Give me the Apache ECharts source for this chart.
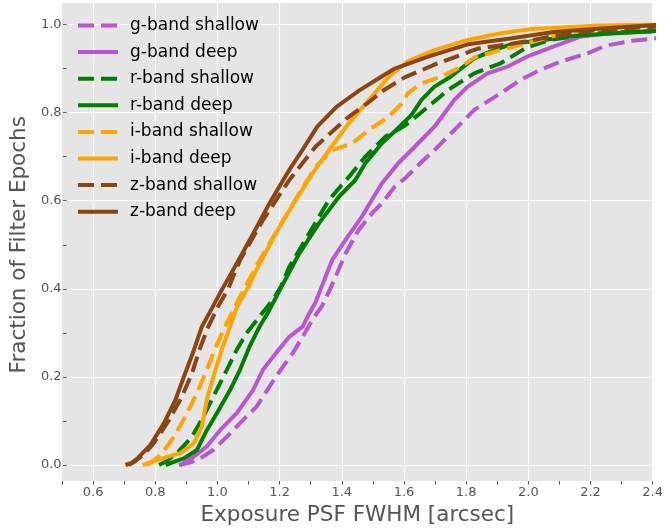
<!DOCTYPE html>
<html>
<head>
<meta charset="utf-8">
<script src="https://cdn.jsdelivr.net/npm/echarts@6/dist/echarts.min.js"></script>
<style>
html,body{margin:0;padding:0;background:#ffffff;}
#chart{width:666px;height:531px;}
</style>
</head>
<body>
<div id="chart"></div>
<script>
// ---- Data ([FWHM arcsec, cumulative fraction]) ----
const seriesNames = ['g-band shallow','g-band deep','r-band shallow','r-band deep',
                     'i-band shallow','i-band deep','z-band shallow','z-band deep'];

const gShallow = [[0.862,0.0],[0.9,0.006],[0.93,0.015],[0.973,0.034],[1.016,0.064],[1.059,0.095],
  [1.112,0.132],[1.154,0.178],[1.197,0.223],[1.229,0.254],[1.261,0.291],[1.292,0.329],[1.324,0.362],
  [1.35,0.4],[1.367,0.427],[1.399,0.48],[1.441,0.533],[1.484,0.571],[1.516,0.594],[1.558,0.632],
  [1.59,0.65],[1.64,0.685],[1.686,0.715],[1.739,0.753],[1.814,0.806],[1.899,0.844],[1.963,0.874],
  [2.026,0.897],[2.09,0.915],[2.176,0.934],[2.239,0.952],[2.324,0.963],[2.4,0.969]];

const gDeep = [[0.867,0.0],[0.89,0.01],[0.91,0.019],[0.952,0.042],[0.995,0.079],[1.048,0.117],
  [1.101,0.17],[1.133,0.216],[1.175,0.254],[1.218,0.291],[1.261,0.314],[1.282,0.344],[1.303,0.37],
  [1.325,0.41],[1.356,0.465],[1.399,0.511],[1.452,0.564],[1.516,0.639],[1.569,0.685],[1.612,0.715],
  [1.686,0.768],[1.75,0.829],[1.793,0.859],[1.857,0.889],[1.92,0.904],[1.984,0.927],[2.069,0.95],
  [2.154,0.972],[2.25,0.98],[2.4,0.985]];

const rShallow = [[0.798,0.0],[0.82,0.008],[0.856,0.027],[0.904,0.064],[0.941,0.11],[0.973,0.155],
  [1.011,0.208],[1.048,0.261],[1.08,0.299],[1.122,0.337],[1.165,0.375],[1.191,0.405],[1.218,0.45],
  [1.282,0.526],[1.346,0.602],[1.41,0.654],[1.463,0.7],[1.527,0.745],[1.59,0.77],[1.665,0.813],
  [1.729,0.851],[1.814,0.889],[1.899,0.912],[1.984,0.948],[2.058,0.965],[2.2,0.98],[2.4,0.985]];

const rDeep = [[0.819,0.0],[0.85,0.008],[0.878,0.015],[0.92,0.034],[0.952,0.079],[0.984,0.117],
  [1.027,0.17],[1.059,0.216],[1.09,0.269],[1.122,0.314],[1.154,0.352],[1.197,0.41],[1.25,0.48],
  [1.314,0.549],[1.378,0.609],[1.431,0.647],[1.463,0.685],[1.516,0.73],[1.569,0.765],[1.612,0.795],
  [1.644,0.829],[1.686,0.859],[1.739,0.882],[1.814,0.923],[1.878,0.942],[1.942,0.957],[2.037,0.965],
  [2.143,0.975],[2.4,0.985]];

const iShallow = [[0.76,0.0],[0.785,0.012],[0.808,0.027],[0.846,0.064],[0.883,0.11],[0.92,0.163],
  [0.952,0.216],[0.979,0.265],[1.011,0.314],[1.043,0.359],[1.065,0.39],[1.122,0.465],[1.186,0.541],
  [1.25,0.617],[1.303,0.677],[1.356,0.715],[1.42,0.73],[1.484,0.765],[1.537,0.79],[1.58,0.82],
  [1.601,0.845],[1.644,0.866],[1.708,0.882],[1.772,0.904],[1.814,0.925],[1.899,0.942],[2.005,0.961],
  [2.09,0.978],[2.2,0.99],[2.4,0.999]];

const iDeep = [[0.745,0.0],[0.78,0.008],[0.808,0.015],[0.867,0.027],[0.91,0.049],[0.936,0.087],
  [0.952,0.148],[0.973,0.2],[1.0,0.261],[1.027,0.314],[1.05,0.36],[1.09,0.41],[1.112,0.443],
  [1.175,0.526],[1.239,0.602],[1.293,0.662],[1.346,0.715],[1.41,0.776],[1.47,0.825],[1.537,0.88],
  [1.601,0.917],[1.686,0.942],[1.793,0.965],[1.9,0.98],[2.0,0.99],[2.2,0.997],[2.4,1.0]];

const zShallow = [[0.70,0.0],[0.72,0.008],[0.75,0.025],[0.782,0.05],[0.83,0.102],[0.872,0.155],
  [0.904,0.208],[0.93,0.265],[0.957,0.314],[0.99,0.362],[1.021,0.4],[1.059,0.465],[1.133,0.556],
  [1.218,0.647],[1.303,0.723],[1.40,0.785],[1.484,0.829],[1.516,0.848],[1.59,0.88],[1.697,0.912],
  [1.825,0.945],[1.942,0.957],[2.058,0.972],[2.2,0.987],[2.4,0.995]];

const zDeep = [[0.69,0.0],[0.71,0.005],[0.73,0.016],[0.77,0.045],[0.814,0.095],[0.851,0.148],
  [0.878,0.2],[0.91,0.26],[0.936,0.314],[0.968,0.355],[1.0,0.397],[1.027,0.43],[1.09,0.51],
  [1.154,0.594],[1.218,0.67],[1.26,0.715],[1.308,0.768],[1.37,0.813],[1.445,0.851],[1.5,0.875],
  [1.558,0.9],[1.665,0.927],[1.793,0.955],[1.93,0.968],[2.07,0.983],[2.2,0.99],[2.4,0.999]];

const seriesData = [gShallow, gDeep, rShallow, rDeep, iShallow, iDeep, zShallow, zDeep];
const seriesColors = ['#BA55D3','#BA55D3','#008000','#008000','#FFA500','#FFA500','#8B4513','#8B4513'];
const seriesDashed = [true,false,true,false,true,false,true,false];

// ---- Chart ----
const FONT = 'DejaVu Sans';
const chart = echarts.init(document.getElementById('chart'), null, {renderer:'canvas'});

const series = seriesNames.map((name, i) => ({
  type: 'line',
  name: name,
  xAxisIndex: 1,
  yAxisIndex: 1,
  data: seriesData[i],
  symbol: 'none',
  showSymbol: false,
  smooth: false,
  animation: false,
  itemStyle: {color: seriesColors[i]},
  lineStyle: {
    color: seriesColors[i],
    width: 4,
    type: seriesDashed[i] ? [16, 7] : 'solid',
    cap: 'butt',
    join: 'round'
  }
}));

const option = {
  animation: false,
  backgroundColor: '#ffffff',
  grid: [
    {left: 62, right: 10, top: 3, bottom: 46, show: true, backgroundColor: '#E5E5E5', borderWidth: 0, containLabel: false},
    {left: 62, right: 10, top: 24.5, bottom: 66, show: false, containLabel: false}
  ],
  legend: {
    orient: 'vertical',
    left: 76,
    top: 17,
    padding: 0,
    itemWidth: 40,
    itemHeight: 14,
    itemGap: 9.6,
    data: seriesNames,
    itemStyle: {opacity: 0, borderWidth: 0},
    lineStyle: {width: 4},
    textStyle: {fontFamily: FONT, fontSize: 17, color: '#000000', padding: [0,0,0,7]}
  },
  xAxis: [
    {
      gridIndex: 0, type: 'value', min: 0.5, max: 2.4, interval: 0.1,
      axisLine: {show: false},
      axisTick: {show: true, length: 3.5, lineStyle: {color: '#555555', width: 1}},
      axisLabel: {
        margin: 5, color: '#555555', fontSize: 13, fontFamily: FONT,
        formatter: v => (Math.round(v * 10) % 2 === 0 ? v.toFixed(1) : '')
      },
      splitLine: {show: true, lineStyle: {color: ['rgba(0,0,0,0)', '#ffffff'], width: 1.2}},
      name: 'Exposure PSF FWHM [arcsec]', nameLocation: 'middle', nameGap: 21,
      nameTextStyle: {fontFamily: FONT, fontSize: 21.5, color: '#555555'}
    },
    {gridIndex: 1, type: 'value', min: 0.5, max: 2.4, show: false}
  ],
  yAxis: [
    {gridIndex: 0, type: 'value', min: 0, max: 1, show: false},
    {
      gridIndex: 1, type: 'value', min: 0, max: 1, interval: 0.1,
      axisLine: {show: false},
      axisTick: {show: true, length: 3.5, lineStyle: {color: '#555555', width: 1}},
      axisLabel: {
        margin: 5, color: '#555555', fontSize: 13, fontFamily: FONT,
        formatter: v => (Math.round(v * 10) % 2 === 0 ? v.toFixed(1) : '')
      },
      splitLine: {show: true, lineStyle: {color: ['#ffffff', 'rgba(0,0,0,0)'], width: 1.2}},
      name: 'Fraction of Filter Epochs', nameLocation: 'middle', nameGap: 33,
      nameTextStyle: {fontFamily: FONT, fontSize: 21.5, color: '#555555'}
    }
  ],
  series: series
};
chart.setOption(option);
</script>
</body>
</html>
